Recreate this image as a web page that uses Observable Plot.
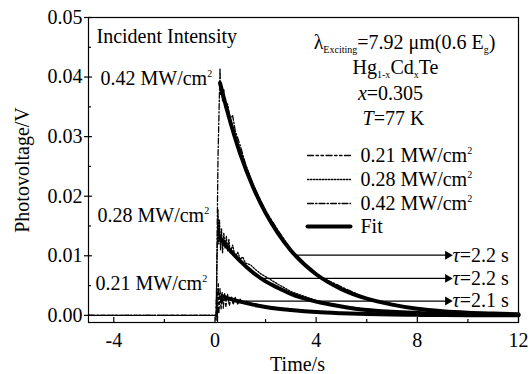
<!DOCTYPE html>
<html><head><meta charset="utf-8">
<script src="https://cdn.jsdelivr.net/npm/d3@7"></script>
<script src="https://cdn.jsdelivr.net/npm/@observablehq/plot@0.6"></script>
<style>
body{margin:0;background:#fff}
svg, svg text, svg tspan{font-family:"Liberation Serif","Times New Roman",serif !important}
</style>
</head><body><div id="chart"></div>
<script>
// ---- measured traces (time in s, photovoltage in V) ----
const t021 = [-5,-3,-1,0,0.04,0.07,0.1,0.13,0.16,0.2,0.24,0.28,0.33,0.38,0.43,0.5,0.57,0.65,0.72,0.8,0.9,1.0,1.1,1.25,1.4,1.6,2,3,4,6,8,12];
const v021 = [0,0,0,0,-0.0008,0.0045,-0.001,0.0055,0.0005,0.0045,0.001,0.004,0.0012,0.0038,0.0015,0.0035,0.0016,0.0032,0.0018,0.003,0.0019,0.0027,0.002,0.0024,0.0019,0.0019,0.0015,0.001,0.0006,0.0003,0.0001,0];

const t028 = [-5,-3,-1,0,0.05,0.08,0.12,0.15,0.18,0.22,0.26,0.3,0.35,0.4,0.45,0.5,0.55,0.6,0.7,0.8,0.9,1.0,1.1,1.2,1.4,1.6,1.8,2,2.5,3,4,5,6,8,10,12];
const v028 = [0,0,0,0,0.0002,0.009,0.0178,0.012,0.016,0.011,0.0145,0.0105,0.0138,0.0112,0.0133,0.0108,0.0128,0.0105,0.0118,0.0098,0.0106,0.0094,0.0098,0.0088,0.0085,0.0077,0.007,0.0065,0.0052,0.004,0.0025,0.0016,0.001,0.0004,0.0002,0.0001];

const t042 = [-5,-3,-1,0,0.05,0.12,0.2,0.22,0.25,0.3,0.35,0.4,0.5,0.6,0.7,0.8,1.0,1.2,1.5,2,3,4,6,8,10,12];
const v042 = [0,0,0,0,0,0.0265,0.0415,0.037,0.039,0.036,0.038,0.035,0.0355,0.033,0.0335,0.031,0.0285,0.0255,0.022,0.0175,0.011,0.0068,0.0028,0.0011,0.0005,0.0002];

// ---- exponential fits ----
const tFit = [0.2,0.5,1,1.5,2,2.5,3,4,5,6,7,8,9,10,11,12];
const fit042 = [0.039,0.0341,0.0271,0.0216,0.0172,0.0137,0.0109,0.0069,0.0044,0.0028,0.0018,0.0011,0.0007,0.00045,0.0003,0.00018];
const fit028 = [0.013,0.0114,0.0091,0.0072,0.0057,0.0046,0.0036,0.0023,0.0015,0.0009,0.0006,0.0004,0.00024,0.00015,0.0001,0.00006];
const tFit021 = [0.3,0.5,1,1.5,2,2.5,3,4,5,6,7,8,9,10,11,12];
const fit021 = [0.0032,0.0029,0.0023,0.0018,0.0014,0.0011,0.00089,0.00055,0.00035,0.00021,0.00013,0.00008,0.00005,0.00003,0.00002,0.00001];

// ---- lifetime arrows ----
const tauLabels = ["*{τ}=2.2 s","*{τ}=2.2 s","*{τ}=2.1 s"];
const tauLevel = [0.0101,0.0062,0.0024];
const tauFrom = [3.15,1.85,1.0];
const tauTo = 9.2;

// ---- axes ----
const xMajor = [-4,0,4,8,12];
const xMinor = [-2,2,6,10];
const yMajor = [0,0.01,0.02,0.03,0.04,0.05];
const yMinor = [0.005,0.015,0.025,0.035,0.045];

const legendLabels = ["0.21 MW/cm^{2}","0.28 MW/cm^{2}","0.42 MW/cm^{2}","Fit"];

const W=530,H=374,ML=88,MR=12,MT=17,MB=52;
const xDom=[-5,12], yDom=[-0.0012,0.05];
const X=d3.scaleLinear(xDom,[ML,W-MR]);
const Y=d3.scaleLinear(yDom,[H-MB,MT]);
const FS=20;
const FF="Liberation Serif";

const pts=(ts,vs)=>ts.map((t,i)=>({t,v:vs[i]}));
const dash021="6,2.5,2.5,2.5,2.5,2.5";
const dash028="1.5,1.5";
const dash042="6,2,1.5,2";

const txt=(s,px,py,o={})=>Plot.text([s],{x:()=>X.invert(px),y:()=>Y.invert(py),text:d=>d,fontSize:FS,fontFamily:FF,lineAnchor:"middle",textAnchor:"start",fill:"black",...o});

const marks=[
  Plot.frame({stroke:"black",strokeWidth:1.2}),
  // data traces
  Plot.line(pts(t021,v021),{x:"t",y:"v",stroke:"black",strokeWidth:1.3,strokeDasharray:dash021}),
  Plot.line(pts(t028,v028),{x:"t",y:"v",stroke:"black",strokeWidth:1.3,strokeDasharray:dash028}),
  Plot.line(pts(t042,v042),{x:"t",y:"v",stroke:"black",strokeWidth:1.3,strokeDasharray:dash042}),
  // fits
  Plot.line(pts(tFit,fit042),{x:"t",y:"v",stroke:"black",strokeWidth:4,curve:"monotone-x"}),
  Plot.line(pts(tFit,fit028),{x:"t",y:"v",stroke:"black",strokeWidth:4,curve:"monotone-x"}),
  Plot.line(pts(tFit021,fit021),{x:"t",y:"v",stroke:"black",strokeWidth:4,curve:"monotone-x"}),
  // arrows
  Plot.ruleY(tauLevel,{y:d=>d,x1:(d,i)=>tauFrom[i],x2:tauTo,stroke:"black",strokeWidth:1.2}),
  Plot.dot(tauLevel,{y:d=>d,x:tauTo,symbol:"triangle",rotate:90,r:3.3,fill:"black",stroke:"none"}),
  Plot.text(tauLevel,{y:d=>d,x:()=>X.invert(452),text:(d,i)=>tauLabels[i],fontSize:FS,fontFamily:FF,textAnchor:"start",lineAnchor:"middle"}),
  // ticks
  Plot.ruleX(xMajor,{x:d=>d,y1:Y.invert(H-MB),y2:Y.invert(H-MB-5),stroke:"black",strokeWidth:1.2}),
  Plot.ruleX(xMinor,{x:d=>d,y1:Y.invert(H-MB),y2:Y.invert(H-MB-3),stroke:"black",strokeWidth:1.2}),
  Plot.ruleY(yMajor,{y:d=>d,x1:X.invert(ML-4),x2:X.invert(ML+4),stroke:"black",strokeWidth:1.2}),
  Plot.ruleY(yMinor,{y:d=>d,x1:X.invert(ML),x2:X.invert(ML+3),stroke:"black",strokeWidth:1.2}),
  Plot.axisX(xMajor,{tickSize:0,tickPadding:10,fontSize:FS,fontFamily:FF,label:null,tickFormat:d=>String(d)}),
  Plot.axisY(yMajor,{tickSize:0,tickPadding:6,fontSize:FS,fontFamily:FF,label:null,tickFormat:d=>d.toFixed(2)}),
  Plot.text(["Time/s"],{frameAnchor:"bottom",dx:-6,dy:42,fontSize:FS,fontFamily:FF,lineAnchor:"middle"}),
  Plot.text(["Photovoltage/V"],{frameAnchor:"left",dx:-66,rotate:-90,textAnchor:"middle",fontSize:FS,fontFamily:FF,lineAnchor:"middle"}),
  // annotations
  txt("Incident Intensity",96,36),
  txt("λ_{Exciting}=7.92 μm(0.6 E_{g})",404,42,{textAnchor:"middle"}),
  txt("Hg_{1-x}Cd_{x}Te",395,67,{textAnchor:"middle"}),
  txt("*{x}=0.305",390,93,{textAnchor:"middle"}),
  txt("*{T}=77 K",393,118,{textAnchor:"middle"}),
  txt("0.42 MW/cm^{2}",100,78),
  txt("0.28 MW/cm^{2}",97,215),
  txt("0.21 MW/cm^{2}",95,283),
];
// legend
const legRows=[155,179,203,226];
const legStyles=[{strokeWidth:1.3,strokeDasharray:dash021},{strokeWidth:1.3,strokeDasharray:dash028},{strokeWidth:1.3,strokeDasharray:dash042},{strokeWidth:4}];
legendLabels.forEach((lab,i)=>{
  marks.push(Plot.line([{t:X.invert(307),v:Y.invert(legRows[i])},{t:X.invert(350),v:Y.invert(legRows[i])}],{x:"t",y:"v",stroke:"black",...legStyles[i]}));
  marks.push(txt(lab,360,legRows[i]));
});

const chart=Plot.plot({
  width:W,height:H,marginLeft:ML,marginRight:MR,marginTop:MT,marginBottom:MB,
  x:{domain:xDom,label:null},y:{domain:yDom,label:null},
  style:{fontFamily:FF,background:"white",color:"black"},
  marks
});

// rich text: _{sub} ^{sup} *{italic}
const NS="http://www.w3.org/2000/svg";
chart.querySelectorAll("text").forEach(t=>{
  const s=t.textContent;
  if(!/[_^*]\{/.test(s)) return;
  while(t.firstChild) t.removeChild(t.firstChild);
  const re=/([_^*])\{([^}]*)\}/g;
  let last=0,m,pending=0;
  const add=(str,kind)=>{
    if(!str) return;
    const sp=document.createElementNS(NS,"tspan");
    sp.textContent=str;
    let dy=pending;pending=0;
    if(kind==="_"){sp.setAttribute("font-size",FS*0.5);dy+=FS*0.22;pending=-FS*0.22;}
    else if(kind==="^"){sp.setAttribute("font-size",FS*0.5);dy+=-FS*0.38;pending=FS*0.38;}
    else if(kind==="*"){sp.setAttribute("font-style","italic");}
    if(dy) sp.setAttribute("dy",dy);
    t.appendChild(sp);
  };
  while((m=re.exec(s))){add(s.slice(last,m.index),"");add(m[2],m[1]);last=re.lastIndex;}
  add(s.slice(last),"");
});
document.getElementById("chart").appendChild(chart);
</script>
</body></html>
